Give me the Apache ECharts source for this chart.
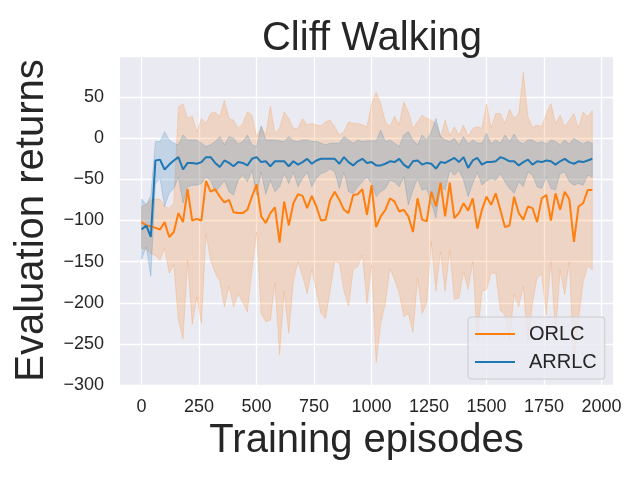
<!DOCTYPE html>
<html>
<head>
<meta charset="utf-8">
<script src="https://cdn.jsdelivr.net/npm/echarts@6/dist/echarts.min.js"></script>
<style>html,body{margin:0;padding:0;background:#fff;}#c{width:640px;height:480px;}</style>
</head>
<body>
<div id="c"></div>
<script>
const episodes = [0,20,40,60,80,100,120,140,160,180,200,220,240,260,280,300,320,340,360,380,400,420,440,460,480,500,520,540,560,580,600,620,640,660,680,700,720,740,760,780,800,820,840,860,880,900,920,940,960,980,1000,1020,1040,1060,1080,1100,1120,1140,1160,1180,1200,1220,1240,1260,1280,1300,1320,1340,1360,1380,1400,1420,1440,1460,1480,1500,1520,1540,1560,1580,1600,1620,1640,1660,1680,1700,1720,1740,1760,1780,1800,1820,1840,1860,1880,1900,1920,1940,1960];

const orlcMean = [-102,-106,-107,-109,-111,-102,-120,-114,-91,-102,-62,-100,-98,-100,-52,-65,-62,-71,-78,-75,-90,
-91,-91,-87,-71,-56,-95,-103,-91,-84,-127,-77,-106,-79,-68,-70,-85,-70,-83,-100,-99,
-75,-65,-75,-87,-91,-69,-68,-62,-93,-57,-108,-95,-87,-73,-77,-89,-87,-95,-114,-73,
-99,-101,-65,-83,-54,-95,-54,-97,-91,-79,-88,-73,-110,-87,-71,-81,-67,-87,-108,-106,
-71,-91,-99,-83,-85,-102,-73,-69,-100,-67,-87,-65,-74,-126,-83,-79,-63,-63];

const orlcUpper = [-83,-81,-75,-74,-74,-83,-85,-79,38,42,24,27,8,24,18,30,32,26,46,24,22,
12,18,32,28,2,14,4,39,6,12,32,24,12,12,24,16,18,16,15,20,
22,14,4,8,20,18,18,16,14,42,56,42,20,14,27,16,44,32,12,20,
28,24,22,18,1,22,3,14,4,16,2,12,14,12,42,12,30,30,18,35,
24,30,80,26,13,16,14,30,42,18,28,14,22,30,12,32,26,34];

const orlcLower = [-134,-135,-140,-143,-148,-134,-164,-154,-221,-244,-148,-226,-193,-225,-116,-148,-164,-174,-205,-180,-205,
-189,-200,-211,-160,-114,-213,-223,-221,-176,-263,-186,-237,-174,-150,-168,-189,-160,-185,-213,-219,
-185,-149,-152,-186,-204,-160,-156,-142,-201,-154,-273,-225,-201,-158,-172,-188,-217,-213,-236,-170,
-213,-200,-126,-186,-138,-186,-136,-196,-194,-162,-184,-150,-245,-186,-184,-164,-164,-209,-215,-245,
-190,-205,-180,-250,-200,-170,-165,-215,-150,-240,-160,-190,-150,-280,-220,-175,-155,-160];

const arrlcMean = [-111,-106,-120,-27,-26,-38,-32,-27,-23,-38,-30,-30,-31,-29,-23,-23,-30,-35,-27,-30,-34,
-29,-30,-33,-25,-23,-29,-28,-34,-28,-28,-28,-34,-28,-32,-29,-25,-31,-27,-25,-25,
-25,-25,-31,-23,-29,-33,-28,-25,-30,-29,-33,-33,-31,-28,-29,-25,-32,-36,-28,-27,
-32,-30,-31,-37,-29,-30,-27,-24,-29,-23,-36,-27,-24,-32,-29,-29,-28,-23,-25,-28,
-28,-33,-29,-26,-32,-28,-29,-27,-28,-32,-28,-25,-29,-31,-28,-29,-27,-25];

const arrlcUpper = [-74,-81,-70,-4,-4,8,-2,-6,-8,4,-2,-2,-2,-6,-10,-8,-4,2,-8,2,0,
-7,-4,4,-8,-10,15,-2,-2,-2,-3,-4,2,-3,-4,-2,-2,-4,-4,-6,-8,
-6,-6,-6,2,-2,-6,-2,-4,-3,-3,-3,10,-4,-2,-6,-10,4,8,-2,-8,
4,-2,8,24,2,-2,-4,0,-8,2,-7,-2,-6,-6,6,-7,-2,-6,4,-4,
5,-4,-7,-2,-2,-6,-4,-7,-2,-4,-8,-2,-7,0,-4,-7,-4,-6];

const arrlcLower = [-147,-132,-168,-55,-49,-83,-67,-61,-47,-79,-59,-57,-57,-55,-47,-51,-65,-59,-51,-65,-69,
-51,-45,-53,-39,-69,-41,-68,-51,-65,-59,-43,-55,-41,-59,-49,-41,-59,-49,-43,-41,
-37,-41,-61,-41,-65,-67,-59,-53,-47,-55,-71,-65,-61,-51,-53,-59,-47,-81,-63,-49,
-63,-61,-79,-97,-59,-63,-39,-45,-39,-51,-71,-55,-41,-57,-52,-49,-51,-43,-53,-61,
-67,-53,-59,-41,-45,-59,-61,-47,-61,-63,-43,-41,-53,-57,-55,-57,-45,-47];

const xTicks = [0,250,500,750,1000,1250,1500,1750,2000];
const seriesNames = ['ORLC','ARRLC'];

const FONT = "'Liberation Sans', Arial, 'DejaVu Sans', sans-serif";
const TXT = '#262626';
const ORANGE = '#ff7f0e';
const BLUE = '#1f77b4';

function pairs(ys){ return episodes.map((x,i)=>[x, ys[i]]); }

const chart = echarts.init(document.getElementById('c'), null, {renderer:'canvas'});

function bandSeries(id, lower, upper, rgb){
  return {
    name: id + '_band', type: 'custom', silent: true, z: 1, clip: true,
    data: episodes.map((x,i)=>[x, lower[i], upper[i]]),
    encode: {x: 0, y: [1, 2]},
    renderItem: function(params, api){
      if (params.dataIndex !== 0) return null;
      const pts = [];
      for (let i = 0; i < episodes.length; i++) pts.push(api.coord([episodes[i], upper[i]]));
      for (let i = episodes.length - 1; i >= 0; i--) pts.push(api.coord([episodes[i], lower[i]]));
      return {type: 'polygon', shape: {points: pts},
              style: {fill: 'rgba(' + rgb + ',0.2)', stroke: 'rgba(' + rgb + ',0.2)', lineWidth: 1}};
    }
  };
}

const option = {
  animation: false,
  backgroundColor: '#ffffff',
  textStyle: {fontFamily: FONT},
  title: {
    text: 'Cliff Walking', left: 367, top: 14, textAlign: 'center',
    textStyle: {fontFamily: FONT, fontSize: 40, fontWeight: 'normal', color: TXT}
  },
  grid: {left: 120, top: 56, width: 493, height: 329, show: true,
         backgroundColor: '#EAEAF2', borderWidth: 0, containLabel: false},
  legend: {
    data: [{name: seriesNames[0], icon: 'rect'}, {name: seriesNames[1], icon: 'rect'}],
    orient: 'vertical', left: 468, top: 317,
    itemWidth: 40, itemHeight: 2, itemGap: 8,
    padding: [7, 8, 7, 7],
    backgroundColor: 'rgba(234,234,242,0.8)', borderColor: '#cccccc', borderWidth: 1, borderRadius: 3,
    textStyle: {fontFamily: FONT, fontSize: 20, color: TXT, padding: [0,0,0,9]},
    selectedMode: false
  },
  xAxis: {
    type: 'value', min: -94, max: 2050,
    name: 'Training episodes', nameLocation: 'middle', nameGap: 36,
    nameTextStyle: {fontFamily: FONT, fontSize: 40, color: TXT},
    axisLine: {show: false},
    axisTick: {show: false, customValues: xTicks},
    axisLabel: {customValues: xTicks, fontFamily: FONT, fontSize: 18, color: TXT, margin: 13,
      formatter: v => String(v)},
    splitLine: {show: true, lineStyle: {color: '#ffffff', width: 1.3}}
  },
  yAxis: {
    type: 'value', min: -300, max: 100, interval: 50,
    name: 'Evaluation returns', nameLocation: 'middle', nameGap: 68,
    nameTextStyle: {fontFamily: FONT, fontSize: 40, color: TXT},
    axisLine: {show: false}, axisTick: {show: false},
    axisLabel: {fontFamily: FONT, fontSize: 18, color: TXT, margin: 16,
      formatter: v => v === 100 ? '' : String(v).replace('-', '\u2212')},
    splitLine: {show: true, lineStyle: {color: '#ffffff', width: 1.3}}
  },
  series: [
    bandSeries('ORLC', orlcLower, orlcUpper, '255,127,14'),
    bandSeries('ARRLC', arrlcLower, arrlcUpper, '31,119,180'),
    {name: seriesNames[0], type:'line', data: pairs(orlcMean), symbol:'none', color: ORANGE,
     lineStyle:{width:2, color: ORANGE}, itemStyle:{color: ORANGE}, z:3},
    {name: seriesNames[1], type:'line', data: pairs(arrlcMean), symbol:'none', color: BLUE,
     lineStyle:{width:2, color: BLUE}, itemStyle:{color: BLUE}, z:4}
  ]
};
chart.setOption(option);
</script>
</body>
</html>
